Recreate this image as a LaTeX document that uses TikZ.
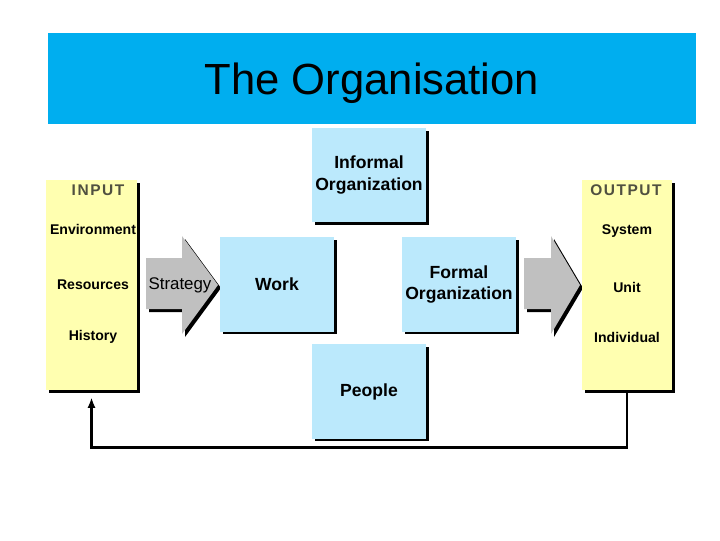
\documentclass[tikz,border=0pt]{standalone}
\usepackage{fontspec}
\setmainfont{Liberation Sans}
\usetikzlibrary{arrows.meta,positioning,shadows}
\definecolor{titlecyan}{RGB}{0,174,239}
\definecolor{orgblue}{RGB}{187,233,252}
\definecolor{ioyellow}{RGB}{255,255,176}
\definecolor{arrowgray}{RGB}{192,192,192}
\definecolor{headgray}{RGB}{80,80,64}
\tikzset{
  orgshadow/.style={drop shadow={shadow xshift=2.1pt, shadow yshift=-2.1pt,
    fill=black, opacity=1}},
  orgbox/.style={fill=orgblue, orgshadow, minimum width=2.85cm,
    minimum height=2.35cm, inner sep=0pt, align=center,
    font=\bfseries\fontsize{12.5}{15.6}\selectfont},
  iobox/.style={fill=ioyellow, orgshadow, minimum height=5.25cm,
    inner sep=0pt},
  iohead/.style={text=headgray,
    font=\bfseries\fontsize{11}{13}\selectfont\addfontfeature{LetterSpace=10}},
  ioitem/.style={font=\bfseries\fontsize{10}{12}\selectfont},
  blockarrow/.style={fill=arrowgray},
  arrowshade/.style={fill=black, shift={(3,3)}},
  feedback/.style={-{Latex[length=2.6mm, width=2mm]}, line width=2pt}
}

\begin{document}
\begin{tikzpicture}[x=0.025cm, y=-0.025cm]
  \useasboundingbox (0,0) rectangle (720,540);

  \node[fill=titlecyan, minimum width=16.2cm, minimum height=2.275cm,
    text depth=0pt, font=\fontsize{31}{36}\selectfont] (title)
    at (372,78.5) {The Organisation};

  % block arrows
  \fill[arrowshade] (146,258) -- (182,258) -- (182,236) -- (218,285)
    -- (182,334) -- (182,309) -- (146,309) -- cycle;
  \fill[blockarrow] (146,258) -- (182,258) -- (182,236) -- (218,285)
    -- (182,334) -- (182,309) -- (146,309) -- cycle;
  \fill[arrowshade] (524,258) -- (551,258) -- (551,236) -- (580,285)
    -- (551,334) -- (551,309) -- (524,309) -- cycle;
  \fill[blockarrow] (524,258) -- (551,258) -- (551,236) -- (580,285)
    -- (551,334) -- (551,309) -- (524,309) -- cycle;
  \node[font=\fontsize{12}{14}\selectfont, inner sep=0pt] (strategy)
    at (180,285) {Strategy};

  % input and output
  \node[iobox, minimum width=2.275cm] (input) at (91.5,285) {};
  \node[iohead] (inhead) at (98,190) {INPUT};
  \node[ioitem] (environment) at (93,229) {Environment};
  \node[ioitem] (resources) at (93,285) {Resources};
  \node[ioitem] (history) at (93,337) {History};

  \node[iobox, minimum width=2.25cm] (output) at (627,285) {};
  \node[iohead] (outhead) at (626,190) {OUTPUT};
  \node[ioitem] (system) at (627,231) {System};
  \node[ioitem] (unit) at (627,287) {Unit};
  \node[ioitem] (individual) at (627,337) {Individual};

  % organisation
  \node[orgbox] (informal) at (369,175) {Informal\\Organization};
  \node[orgbox] (work) at (277,284.5) {Work};
  \node[orgbox] (formal) at (459,284.5) {Formal\\Organization};
  \node[orgbox] (people) at (369,391.5) {People};

  \draw[feedback] (output.south) -- ++(0,57)
    -| ([yshift=-5pt]input.south);
\end{tikzpicture}
\end{document}
